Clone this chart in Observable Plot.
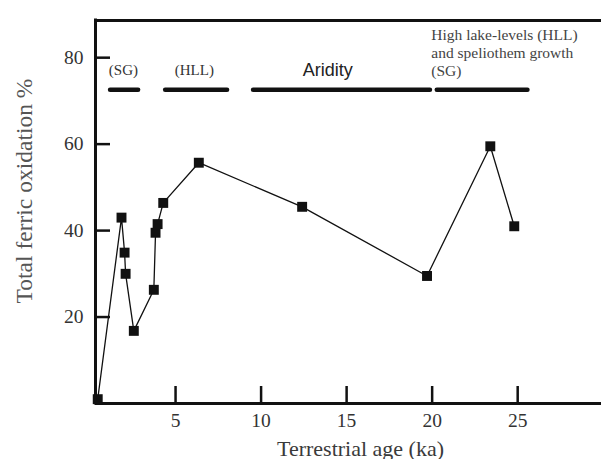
<!DOCTYPE html>
<html><head><meta charset="utf-8">
<script src="https://cdn.jsdelivr.net/npm/d3@7"></script>
<script src="https://cdn.jsdelivr.net/npm/@observablehq/plot@0.6"></script>
<style>body{margin:0;background:#fff}</style>
</head><body><div id="chart"></div>
<script>
// Data
const ages      = [0.45, 1.84, 2.02, 2.08, 2.56, 3.73, 3.83, 3.95, 4.28, 6.36, 12.4, 19.7, 23.4, 24.8];
const oxidation = [1.0, 43.0, 34.9, 30.0, 16.8, 26.3, 39.5, 41.5, 46.4, 55.7, 45.5, 29.5, 59.5, 41.0];
const xTicks = [5, 10, 15, 20, 25];
const yTicks = [20, 40, 60, 80];
const xDomain = [0.32, 29.9];
const yDomain = [0, 88.6];
const xTitle = ["Terrestrial age (ka)"];
const yTitle = "Total ferric oxidation %";
// Climate periods (bars)
const periodStart = [1.2, 4.42, 9.56, 20.3];
const periodEnd   = [2.84, 8.04, 19.9, 25.6];
const periodLevel = [72.6];
// Period labels
const periodLabels = ["(SG)", "(HLL)"];
const periodLabelX = [1.95, 6.1];
const periodLabelY = [77, 77];
const aridityLabel = ["Aridity"];
const aridityX = [13.9];
const aridityY = [77];
const wetLabel = ["High lake-levels (HLL)\nand speliothem growth\n(SG)"];
const wetX = [19.95];
const wetY = [87.2];

const pts = ages.map((a, i) => ({age: a, ox: oxidation[i]}));
const periods = periodStart.map((s, i) => ({s, e: periodEnd[i]}));
const pl = periodLabels.map((t, i) => ({t, x: periodLabelX[i], y: periodLabelY[i]}));
const ar = aridityLabel.map((t, i) => ({t, x: aridityX[i], y: aridityY[i]}));
const wl = wetLabel.map((t, i) => ({t, x: wetX[i], y: wetY[i]}));

const chart = Plot.plot({
  width: 601, height: 459,
  marginLeft: 95, marginRight: 0, marginTop: 20, marginBottom: 56,
  style: {fontFamily: "'Liberation Serif', serif", background: "#fff", color: "#333", overflow: "visible"},
  x: {domain: xDomain, label: null},
  y: {domain: yDomain, label: null},
  marks: [
    // frame (top, left, bottom)
    Plot.ruleY([yDomain[1]], {stroke: "#111", strokeWidth: 3}),
    Plot.ruleY([yDomain[0]], {stroke: "#111", strokeWidth: 3}),
    Plot.ruleX([xDomain[0]], {stroke: "#111", strokeWidth: 3, strokeLinecap: "square"}),
    // inward ticks
    Plot.axisX({ticks: xTicks, tickSize: -17, tickFormat: () => "", stroke: "#111", strokeWidth: 2.5, label: null}),
    Plot.axisY({ticks: yTicks, tickSize: -15, tickFormat: () => "", stroke: "#111", strokeWidth: 2.5, label: null}),
    // tick labels and titles
    Plot.axisX({ticks: xTicks, tickSize: 0, tickPadding: 10, fontSize: 19.5, fill: "#333", label: null}),
    Plot.axisY({ticks: yTicks, tickSize: 0, tickPadding: 12, fontSize: 19.5, fill: "#333", label: null}),
    Plot.text(xTitle, {frameAnchor: "bottom", text: d => d, dx: 12, dy: 52, fontSize: 22, fill: "#3a3a3a", lineAnchor: "bottom"}),
    Plot.text([yTitle], {frameAnchor: "left", text: d => d, dx: -71, dy: -21, rotate: -90, textAnchor: "middle", fontSize: 23.5, fill: "#555", lineAnchor: "middle"}),
    // period bars
    Plot.ruleY(periods, {x1: "s", x2: "e", y: periodLevel[0], stroke: "#111", strokeWidth: 4.5, strokeLinecap: "round"}),
    Plot.text(pl, {x: "x", y: "y", text: "t", fontSize: 15, fill: "#333"}),
    Plot.text(ar, {x: "x", y: "y", text: "t", fontSize: 18, fill: "#222", fontFamily: "'Liberation Sans', sans-serif"}),
    Plot.text(wl, {x: "x", y: "y", text: "t", fontSize: 15.5, fill: "#444", textAnchor: "start", lineAnchor: "top", lineHeight: 1.18}),
    // series
    Plot.line(pts, {x: "age", y: "ox", stroke: "#111", strokeWidth: 1.3}),
    Plot.dot(pts, {x: "age", y: "ox", symbol: "square", r: 5.6, fill: "#111", stroke: "none"})
  ]
});
document.getElementById("chart").appendChild(chart);
</script>
</body></html>
